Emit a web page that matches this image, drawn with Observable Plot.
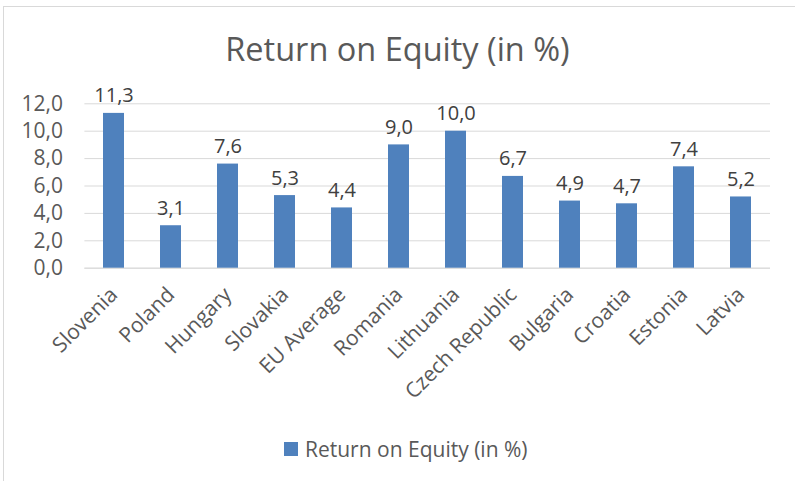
<!DOCTYPE html>
<html>
<head>
<meta charset="utf-8">
<script src="https://cdn.jsdelivr.net/npm/d3@7"></script>
<script src="https://cdn.jsdelivr.net/npm/@observablehq/plot@0.6"></script>
<style>
  html, body { margin: 0; padding: 0; background: #fff; }
  #wrap { position: relative; width: 795px; height: 481px; overflow: hidden; font-family: "Open Sans", sans-serif; }
  #frame { position: absolute; left: 3px; top: 6px; width: 900px; height: 600px; border-left: 1px solid #d9d9d9; border-top: 1px solid #d9d9d9; }
  #title { position: absolute; left: 0; width: 795px; top: 29px; text-align: center; font-size: 32.5px; color: #595959; line-height: 40px; }
  #chart { position: absolute; left: 0; top: 80px; }
  #legend { position: absolute; left: 284px; top: 436.5px; font-size: 21px; color: #595959; display: flex; align-items: center; line-height: 24px; }
  #legend .sw { width: 14px; height: 14px; background: #4F81BD; margin-right: 7px; }
</style>
</head>
<body>
<div id="wrap">
  <div id="frame"></div>
  <div id="title">Return on Equity (in %)</div>
  <div id="chart"></div>
  <div id="legend"><span class="sw"></span><span>Return on Equity (in %)</span></div>
</div>
<script>
const categories = ["Slovenia", "Poland", "Hungary", "Slovakia", "EU Average", "Romania", "Lithuania", "Czech Republic", "Bulgaria", "Croatia", "Estonia", "Latvia"];
const values = [11.3, 3.1, 7.6, 5.3, 4.4, 9.0, 10.0, 6.7, 4.9, 4.7, 7.4, 5.2];
const yTicks = [0, 2, 4, 6, 8, 10, 12];

const data = categories.map((c, i) => ({category: c, value: values[i]}));
const fmt = d => d.toFixed(1).replace(".", ",");

const plot = Plot.plot({
  width: 795,
  height: 330,
  marginTop: 23.3,
  marginBottom: 142.3,
  marginLeft: 84.4,
  marginRight: 25,
  style: {fontFamily: "'Open Sans', sans-serif", background: "transparent"},
  x: {domain: categories, paddingInner: 0.63, paddingOuter: 0.315, label: null},
  y: {domain: [0, 12], label: null},
  marks: [
    Plot.gridY(yTicks, {stroke: "#d9d9d9", strokeOpacity: 1}),
    Plot.ruleY([0], {stroke: "#d9d9d9", strokeOpacity: 1}),
    Plot.barY(data, {x: "category", y: "value", fill: "#4F81BD"}),
    Plot.text(data, {x: "category", y: "value", text: d => fmt(d.value), lineAnchor: "bottom", dy: -11, fontSize: 20, fill: "#404040"}),
    Plot.axisY(yTicks, {tickSize: 0, tickPadding: 22, tickFormat: fmt, fontSize: 21, fill: "#595959"}),
    Plot.axisX({tickSize: 0, tickRotate: -45, tickPadding: 23, fontSize: 21, fill: "#595959"})
  ]
});
document.getElementById("chart").appendChild(plot);
</script>
</body>
</html>
